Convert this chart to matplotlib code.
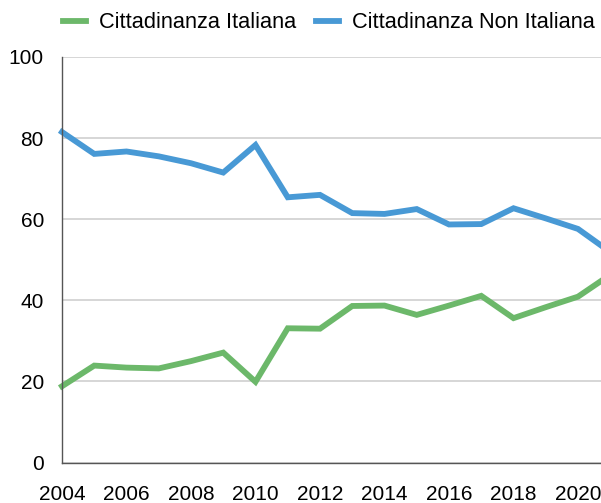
import matplotlib.pyplot as plt

years = list(range(2004, 2022))
italiana = [18.8, 23.9, 23.4, 23.2, 25.0, 27.1, 19.9, 33.1, 33.0, 38.6,
            38.7, 36.4, 38.7, 41.1, 35.6, 38.3, 40.9, 46.3]
non_italiana = [81.5, 76.1, 76.7, 75.5, 73.8, 71.5, 78.3, 65.4, 66.0, 61.5,
                61.3, 62.5, 58.7, 58.8, 62.7, 60.2, 57.6, 51.9]
xticks = list(range(2004, 2021, 2))
yticks = [0, 20, 40, 60, 80, 100]

plt.rcParams['font.family'] = ['Liberation Sans', 'DejaVu Sans']

fig = plt.figure(figsize=(6.01, 5.03), dpi=100)
ax = fig.add_axes([62 / 601, (503 - 462.5) / 503, 548.25 / 601, 405.5 / 503])

ax.plot(years, italiana, color='#6cb86a', lw=4.2, label='Cittadinanza Italiana',
        solid_joinstyle='miter', clip_on=False)
ax.plot(years, non_italiana, color='#4899d5', lw=4.2, label='Cittadinanza Non Italiana',
        solid_joinstyle='miter', clip_on=False)

ax.set_xlim(2004, 2021)
ax.set_ylim(0, 100)
ax.set_xticks(xticks)
ax.set_yticks(yticks)
ax.tick_params(length=0, labelsize=15, colors='black')
ax.tick_params(axis='y', pad=13)
ax.tick_params(axis='x', pad=16)
ax.grid(axis='y', color='#d0d0d0', lw=1.2)
ax.set_axisbelow(True)
for s in ['top', 'right']:
    ax.spines[s].set_visible(False)
for s in ['left', 'bottom']:
    ax.spines[s].set_color('#555555')
    ax.spines[s].set_linewidth(1.0)

fig.legend(loc='center', bbox_to_anchor=(329 / 601, 1 - 23 / 503), ncol=2,
           frameon=False, fontsize=15.7, handlelength=1.05, handletextpad=0.58,
           columnspacing=0.93, borderpad=0, borderaxespad=0)

fig.savefig('out.png', dpi=100)
